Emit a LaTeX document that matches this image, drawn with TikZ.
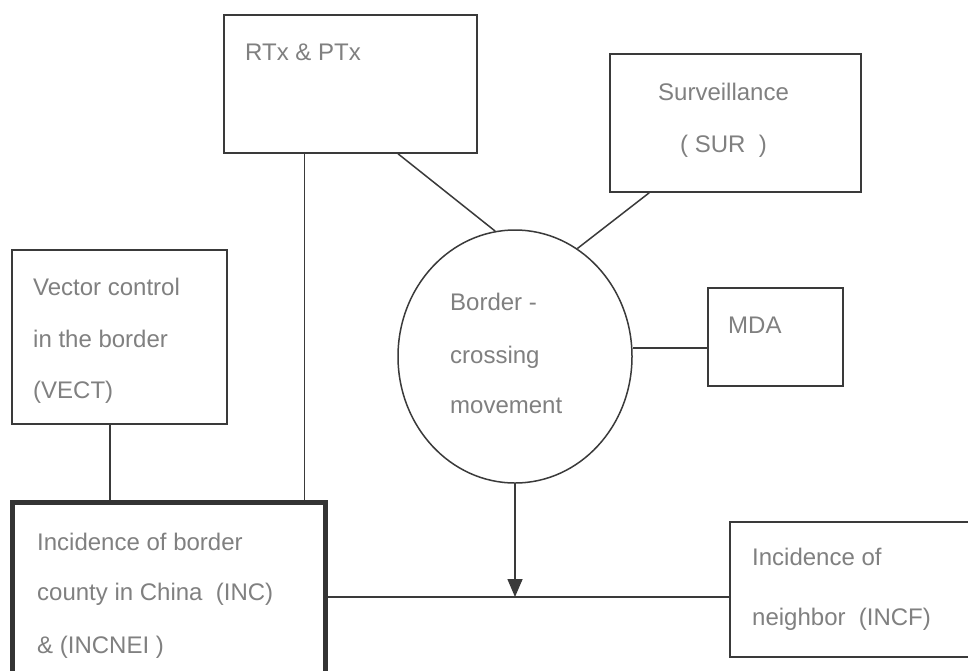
\documentclass[tikz,border=0pt]{standalone}
\usepackage{fontspec}
\setmainfont{Liberation Sans}
\usetikzlibrary{shapes.geometric,arrows.meta}
\definecolor{linecol}{HTML}{3A3A3A}
\definecolor{textcol}{HTML}{808080}
\tikzset{
  box/.style={draw=linecol, line width=1.5pt, rectangle, inner sep=0pt, fill=white},
  thickbox/.style={draw=linecol!90!black, line width=5pt, rectangle, inner sep=0pt, fill=white},
  lbl/.style={anchor=base west, inner sep=0pt, text=textcol, font=\fontsize{24}{28}\selectfont},
  conn/.style={draw=linecol, line width=1.5pt},
}
\begin{document}
\begin{tikzpicture}[x=1pt,y=-1pt]
\useasboundingbox[fill=white] (0,0) rectangle (968,670);

% boxes
\node[box, minimum width=253pt, minimum height=138pt] (rtx) at (350.5,84) {};
\node[box, minimum width=251pt, minimum height=138pt] (sur) at (735.5,123) {};
\node[box, minimum width=215pt, minimum height=174pt] (vect) at (119.5,337) {};
\node[box, minimum width=135pt, minimum height=98pt] (mda) at (775.5,337) {};
\node[box, draw=linecol, line width=1.5pt, ellipse, minimum width=234pt, minimum height=253pt] (bcm) at (515,356.5) {};
\node[thickbox, minimum width=313pt, minimum height=178pt] (inc) at (168.5,591) {};
\node[box, minimum width=239pt, minimum height=135pt] (incf) at (849.5,589.5) {};

% junction on the horizontal line
\path ([yshift=-7.5pt]incf.west) coordinate (j);

% connectors
\draw[conn] ([xshift=-23pt]inc.north east) -- ([xshift=-23pt]inc.north east |- rtx.south);
\draw[conn] ([xshift=-9.5pt]vect.south) -- ([xshift=-9.5pt]vect.south |- inc.north);
\draw[conn] ([xshift=47.5pt]rtx.south) -- (bcm.99);
\draw[conn] ([xshift=40pt]sur.south west) -- (bcm.60);
\draw[conn] ([yshift=-11pt]mda.west) -- ([yshift=-11pt]mda.west -| bcm.east);
\draw[conn] (j) -- (j -| inc.east);
\draw[conn, -{Triangle[length=18pt,width=15pt]}] (bcm.south) -- (bcm.south |- j);

% texts
\node[lbl] (t1) at (245,60) {RTx \& PTx};
\node[lbl] (t2) at (658,100) {Surveillance};
\node[lbl] (t3) at (680,152) {( SUR\ \ )};
\node[lbl] (t4) at (33,295) {Vector control};
\node[lbl] (t5) at (33,347) {in the border};
\node[lbl] (t6) at (33,398) {(VECT)};
\node[lbl] (t7) at (450,310) {Border -};
\node[lbl] (t8) at (450,363) {crossing};
\node[lbl] (t9) at (450,413) {movement};
\node[lbl] (t10) at (728,333) {MDA};
\node[lbl] (t11) at (37,550) {Incidence of border};
\node[lbl] (t12) at (37,600) {county in China\ \ (INC)};
\node[lbl] (t13) at (37,653) {\& (INCNEI )};
\node[lbl] (t14) at (752,565) {Incidence of};
\node[lbl] (t15) at (752,625) {neighbor\ \ (INCF)};
\end{tikzpicture}
\end{document}
